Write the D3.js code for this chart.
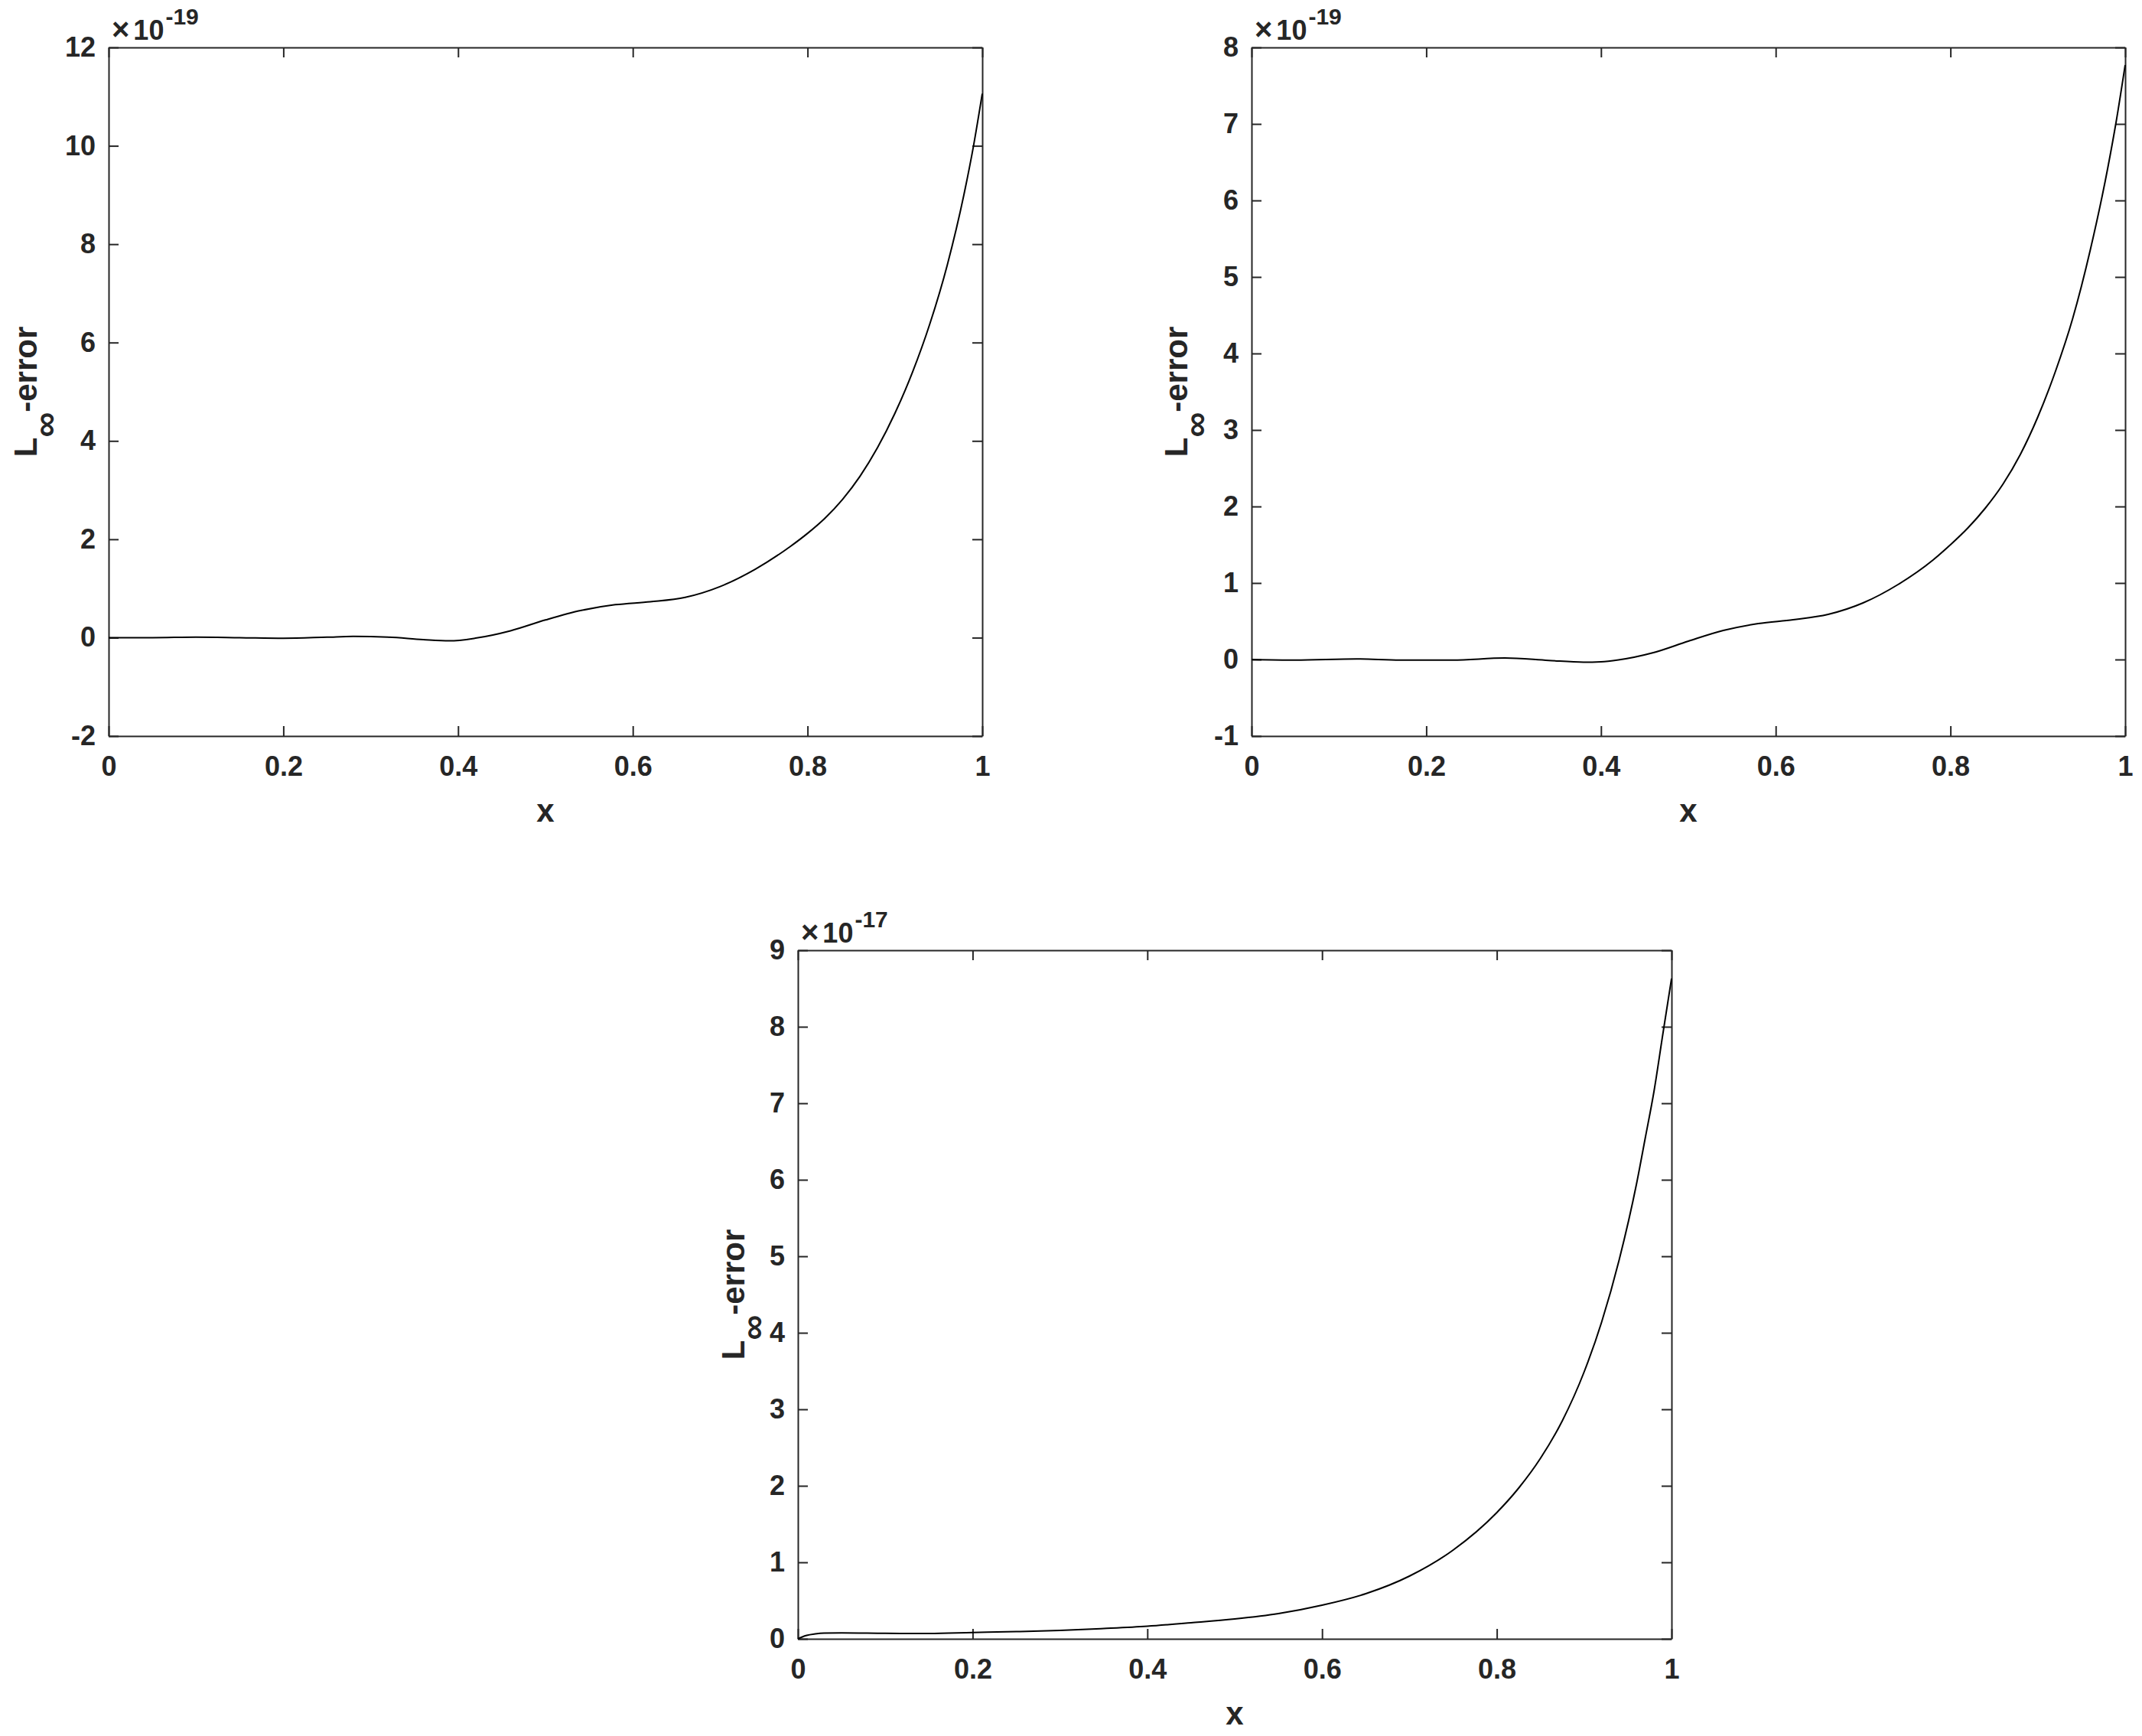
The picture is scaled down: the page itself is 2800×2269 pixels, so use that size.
<html>
<head>
<meta charset="utf-8">
<script src="https://d3js.org/d3.v7.min.js"></script>
<style>
  body { margin: 0; background: #fff; }
  text { font-family: "Liberation Sans", Arial, Helvetica, sans-serif; font-weight: bold; fill: #262626; }
</style>
</head>
<body>
<script type="text/javascript">

// x tick labels (same on all three panels)
var xTicks = [0, 0.2, 0.4, 0.6, 0.8, 1];

// panel 1 (top left), values in units of 1e-19
var x1 = [0, 0.05, 0.1, 0.15, 0.2, 0.25, 0.28, 0.32, 0.36, 0.39, 0.42, 0.46, 0.5, 0.54, 0.58, 0.62, 0.66, 0.7, 0.74, 0.78, 0.8, 0.82, 0.84, 0.86, 0.88, 0.9, 0.92, 0.94, 0.96, 0.98, 0.99, 1.0];
var err1 = [0, 0.0, 0.01, 0.0, -0.012, 0.01, 0.025, 0.01, -0.04, -0.065, -0.01, 0.14, 0.36, 0.55, 0.67, 0.73, 0.82, 1.04, 1.39, 1.85, 2.12, 2.43, 2.81, 3.28, 3.86, 4.56, 5.39, 6.38, 7.58, 9.09, 10.0, 11.06];
var yTicks1 = [-2, 0, 2, 4, 6, 8, 10, 12];

// panel 2 (top right), units of 1e-19
var x2 = [0, 0.05, 0.12, 0.17, 0.23, 0.29, 0.34, 0.38, 0.4, 0.42, 0.46, 0.5, 0.54, 0.58, 0.62, 0.66, 0.7, 0.74, 0.78, 0.8, 0.82, 0.84, 0.86, 0.88, 0.9, 0.92, 0.94, 0.96, 0.98, 0.99, 1.0];
var err2 = [0, -0.008, 0.007, -0.008, -0.008, 0.02, -0.012, -0.035, -0.03, -0.005, 0.09, 0.24, 0.38, 0.47, 0.52, 0.59, 0.74, 0.98, 1.30, 1.50, 1.72, 1.98, 2.29, 2.68, 3.17, 3.76, 4.46, 5.35, 6.42, 7.05, 7.77];
var yTicks2 = [-1, 0, 1, 2, 3, 4, 5, 6, 7, 8];

// panel 3 (bottom), units of 1e-17
var x3 = [0, 0.005, 0.01, 0.02, 0.03, 0.05, 0.1, 0.15, 0.2, 0.25, 0.3, 0.35, 0.4, 0.45, 0.5, 0.55, 0.6, 0.65, 0.7, 0.75, 0.8, 0.825, 0.85, 0.875, 0.9, 0.92, 0.94, 0.96, 0.97, 0.98, 0.99, 1.0];
var err3 = [0, 0.025, 0.045, 0.065, 0.075, 0.078, 0.072, 0.07, 0.083, 0.095, 0.11, 0.135, 0.165, 0.21, 0.26, 0.33, 0.44, 0.59, 0.82, 1.16, 1.65, 1.97, 2.36, 2.85, 3.49, 4.14, 4.95, 5.95, 6.55, 7.16, 7.9, 8.63];
var yTicks3 = [0, 1, 2, 3, 4, 5, 6, 7, 8, 9];

var exponents = ["-19", "-19", "-17"];

var panels = [
  {left: 142, top: 62, xs: x1, ys: err1, yTicks: yTicks1, exp: exponents[0], labelOff: 94},
  {left: 1636, top: 62, xs: x2, ys: err2, yTicks: yTicks2, exp: exponents[1], labelOff: 84},
  {left: 1043, top: 1242, xs: x3, ys: err3, yTicks: yTicks3, exp: exponents[2], labelOff: 70}
];

var width = 1142, height = 900;

var svg = d3.select("body").append("svg")
    .attr("width", 2800)
    .attr("height", 2269);

svg.append("rect").attr("width", 2800).attr("height", 2269).attr("fill", "#fff");

function fmt(d) { return String(+d.toFixed(2)); }

panels.forEach(function(p) {
  var g = svg.append("g")
      .attr("transform", "translate(" + p.left + "," + p.top + ")");

  var x = d3.scaleLinear().domain([0, 1]).range([0, width]);
  var y = d3.scaleLinear()
      .domain([p.yTicks[0], p.yTicks[p.yTicks.length - 1]])
      .range([height, 0]);

  function styleAxis(sel) {
    sel.select(".domain").attr("stroke", "#262626").attr("stroke-width", 2);
    sel.selectAll(".tick line").attr("stroke", "#262626").attr("stroke-width", 2);
    sel.selectAll("text")
      .attr("font-size", 36)
      .attr("font-family", "'Liberation Sans', Arial, sans-serif")
      .attr("font-weight", "bold")
      .attr("fill", "#262626");
    sel.attr("font-family", null).attr("font-size", null);
  }

  g.append("g")
    .attr("transform", "translate(0," + height + ")")
    .call(d3.axisBottom(x).tickValues(xTicks).tickFormat(fmt).tickSizeInner(-13).tickSizeOuter(0).tickPadding(26))
    .call(styleAxis);

  g.append("g")
    .call(d3.axisTop(x).tickValues(xTicks).tickFormat("").tickSizeInner(-13).tickSizeOuter(0))
    .call(styleAxis);

  g.append("g")
    .call(d3.axisLeft(y).tickValues(p.yTicks).tickFormat(fmt).tickSizeInner(-13).tickSizeOuter(0).tickPadding(17))
    .call(styleAxis);

  g.append("g")
    .attr("transform", "translate(" + width + ",0)")
    .call(d3.axisRight(y).tickValues(p.yTicks).tickFormat("").tickSizeInner(-13).tickSizeOuter(0))
    .call(styleAxis);

  var pts = p.xs.map(function(d, i) { return [d, p.ys[i]]; });

  var line = d3.line()
      .x(function(d) { return x(d[0]); })
      .y(function(d) { return y(d[1]); })
      .curve(d3.curveMonotoneX);

  g.append("path")
    .datum(pts)
    .attr("fill", "none")
    .attr("stroke", "#000")
    .attr("stroke-width", 2)
    .attr("d", line);

  // exponent label
  var ex = g.append("text")
      .attr("x", 4)
      .attr("y", -10)
      .attr("font-size", 36);
  ex.append("tspan").attr("font-size", 40).text("\u00d7");
  ex.append("tspan").attr("dx", 5).text("10");
  ex.append("tspan").attr("font-size", 30).attr("dx", 2).attr("dy", -20).text(p.exp);

  // x label
  g.append("text")
    .attr("x", width / 2)
    .attr("y", height + 112)
    .attr("text-anchor", "middle")
    .attr("font-size", 42)
    .text("x");

  // y label
  var yl = g.append("text")
      .attr("transform", "translate(" + (-p.labelOff) + "," + (height / 2) + ") rotate(-90)")
      .attr("text-anchor", "middle")
      .attr("font-size", 42);
  yl.append("tspan").text("L");
  yl.append("tspan").attr("dy", 27).attr("font-size", 46).text("\u221e");
  yl.append("tspan").attr("dy", -27).text("-error");
});

</script>
</body>
</html>
